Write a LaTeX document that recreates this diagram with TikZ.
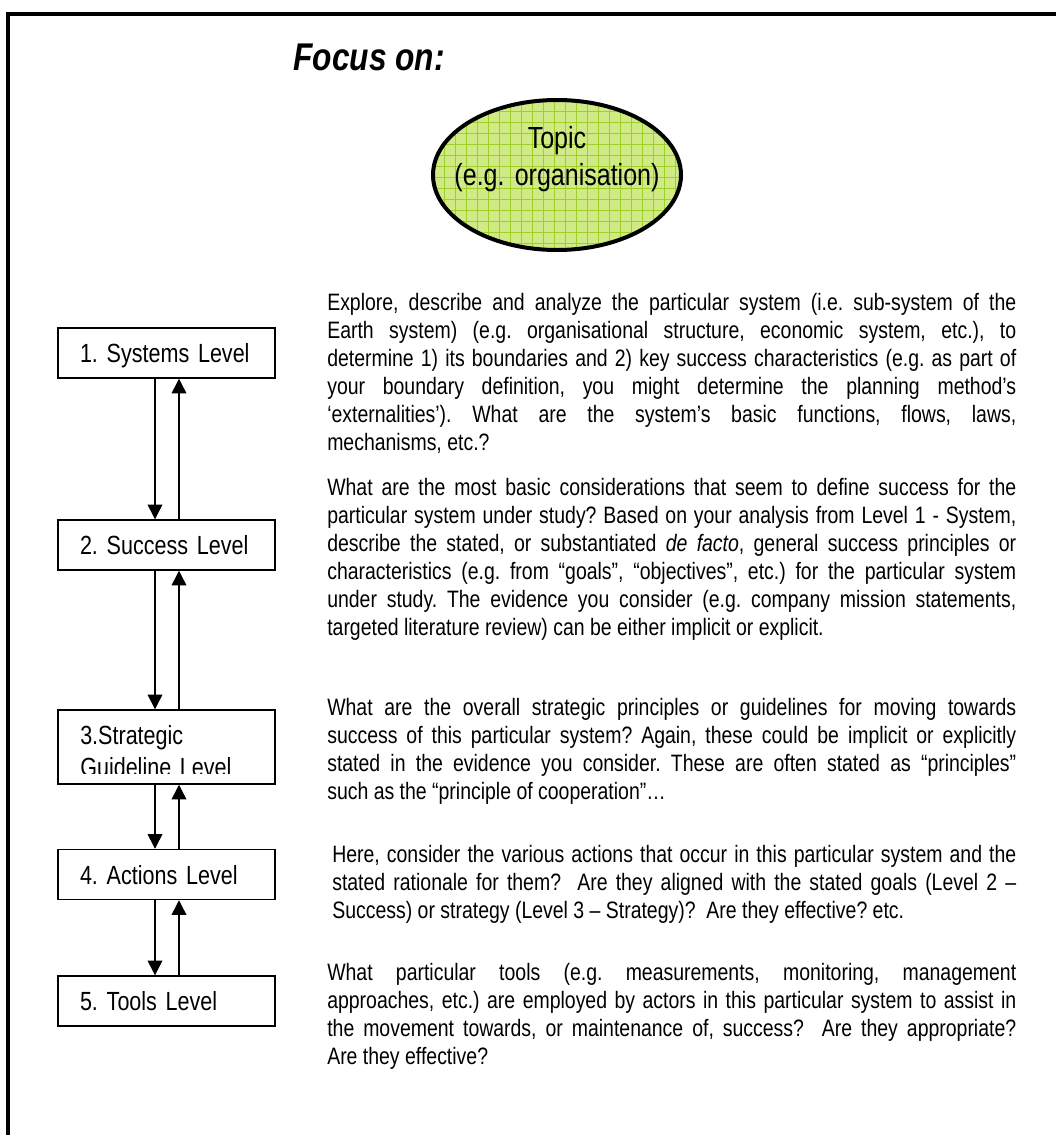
\documentclass[tikz,border=0pt]{standalone}
\usepackage{fontspec}
\setmainfont{Liberation Sans}[FakeStretch=0.82]
\usetikzlibrary{shapes.geometric,arrows.meta,positioning,calc}

\definecolor{topicfill}{RGB}{208,234,134}
\definecolor{topicgrid}{RGB}{160,208,40}

\tikzset{
  frame/.style={line width=3pt, line join=miter},
  levelbox/.style={draw, rectangle, line width=1.1pt, minimum width=162.75pt, minimum height=37.5pt,
    text width=129.75pt, inner xsep=16.5pt, inner ysep=0pt, align=left, text depth=0pt,
    font=\fontsize{19.7}{24}\selectfont},
  flow/.style={line width=1.1pt, -{Triangle[width=11pt,length=11pt]}},
  para/.style={anchor=north west, inner sep=0pt, text width=516.75pt, align=justify,
    font=\fontsize{17.8}{21}\selectfont},
  gridline/.style={topicgrid, line width=0.7pt}
}

\begin{document}
\frenchspacing
\begin{tikzpicture}[x=0.75pt, y=-0.75pt]
\useasboundingbox (0,0) rectangle (1056,1135);
\tolerance=10000 \hyphenpenalty=10000

% Rahmen
\draw[frame] (1056,14) -- (8,14) -- (8,1135);

% Titel
\node[anchor=base west, inner sep=0pt, font=\fontsize{29}{34}\selectfont\bfseries\itshape] (focus) at (293,70) {Focus on:};

% Thema
\node[ellipse, fill=topicfill, inner sep=0pt, minimum width=186pt, minimum height=112.5pt] (topic) at (557,175) {};
\begin{scope}
\clip (topic.center) ellipse [x radius=124, y radius=75];
\foreach \gx in {433,444,...,681} \draw[gridline] (\gx,100) -- (\gx,250);
\foreach \gy in {100,111,...,250} \draw[gridline] (433,\gy) -- (681,\gy);
\end{scope}
\draw[line width=3pt] (topic.center) ellipse [x radius=124, y radius=75];
\node[anchor=north, inner sep=0pt, text width=225pt, align=center, font=\fontsize{22.9}{27.75}\selectfont] (topictext) at (557,122) {\strut Topic\\(e.g. organisation)};

% Ebenen
\node[levelbox] (systems) at (166.5,353) {1. Systems Level};
\node[levelbox] (success) at (166.5,545) {2. Success Level};
\node[levelbox, minimum height=55.5pt] (strategic) at (166.5,747) {};
\begin{scope}
\clip (58,705) rectangle (275,773);
\node[anchor=north west, inner sep=0pt, text width=180pt, align=left, font=\fontsize{19.7}{24}\selectfont] (strategiclabel) at (80,721.6) {\strut 3.Strategic\\Guideline Level};
\end{scope}
\node[levelbox] (actions) at (166.5,874.5) {4. Actions Level};
\node[levelbox] (tools) at (166.5,1001) {5. Tools Level};

% Pfeile
\draw[flow] ($(systems.south)+(-11.5,0)$) -- ($(success.north)+(-11.5,0)$);
\draw[flow] ($(success.north)+(12.5,0)$) -- ($(systems.south)+(12.5,0)$);
\draw[flow] ($(success.south)+(-11.5,0)$) -- ($(strategic.north)+(-11.5,0)$);
\draw[flow] ($(strategic.north)+(12.5,0)$) -- ($(success.south)+(12.5,0)$);
\draw[flow] ($(strategic.south)+(-11.5,0)$) -- ($(actions.north)+(-11.5,0)$);
\draw[flow] ($(actions.north)+(12.5,0)$) -- ($(strategic.south)+(12.5,0)$);
\draw[flow] ($(actions.south)+(-11.5,0)$) -- ($(tools.north)+(-11.5,0)$);
\draw[flow] ($(tools.north)+(12.5,0)$) -- ($(actions.south)+(12.5,0)$);

% Texte
\node[para] (systemstext) at (327,291) {\strut Explore, describe and analyze the particular system (i.e. sub-system of the\linebreak
Earth system) (e.g. organisational structure, economic system, etc.), to\linebreak
determine 1) its boundaries and 2) key success characteristics (e.g. as part of\linebreak
your boundary definition, you might determine the planning method’s\linebreak
‘externalities’). What are the system’s basic functions, flows, laws,\linebreak
mechanisms, etc.?};

\node[para] (successtext) at (327,476) {\strut What are the most basic considerations that seem to define success for the\linebreak
particular system under study? Based on your analysis from Level 1 - System,\linebreak
describe the stated, or substantiated \textit{de facto}, general success principles or\linebreak
characteristics (e.g. from “goals”, “objectives”, etc.) for the particular system\linebreak
under study. The evidence you consider (e.g. company mission statements,\linebreak
targeted literature review) can be either implicit or explicit.};

\node[para] (strategictext) at (327,696) {\strut What are the overall strategic principles or guidelines for moving towards\linebreak
success of this particular system? Again, these could be implicit or explicitly\linebreak
stated in the evidence you consider. These are often stated as “principles”\linebreak
such as the “principle of cooperation”…};

\node[para, text width=513pt] (actionstext) at (332,843) {\strut Here, consider the various actions that occur in this particular system and the\linebreak
stated rationale for them?\ \ Are they aligned with the stated goals (Level 2 –\linebreak
Success) or strategy (Level 3 – Strategy)?\ \ Are they effective? etc.};

\node[para] (toolstext) at (327,961) {\strut What particular tools (e.g. measurements, monitoring, management\linebreak
approaches, etc.) are employed by actors in this particular system to assist in\linebreak
the movement towards, or maintenance of, success?\ \ Are they appropriate?\linebreak
Are they effective?};
\end{tikzpicture}
\end{document}
